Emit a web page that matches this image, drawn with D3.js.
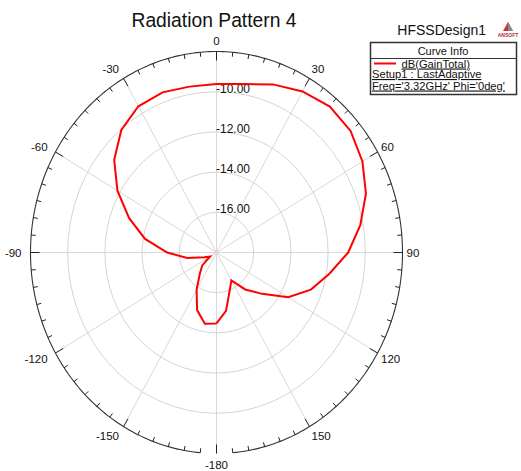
<!DOCTYPE html>
<html>
<head>
<meta charset="utf-8">
<script src="https://cdn.jsdelivr.net/npm/d3@7"></script>
<style>
  html, body { margin: 0; padding: 0; background: #fff; }
  svg { display: block; font-family: "Liberation Sans", Arial, sans-serif; }
</style>
</head>
<body>
<svg id="chart" width="521" height="471"></svg>
<script>
// ---- data ----
const thetaDeg = [-180,-170,-160,-150,-140,-130,-120,-110,-100,-90,-80,-70,-60,-50,-40,-30,-20,-10,
                  0,10,20,30,40,50,60,70,80,90,100,110,120,130,140,150,160,170,180];
const gainDb = [-14.47,-14.40,-14.95,-15.86,-16.60,-17.00,-17.60,-17.30,-16.40,-15.35,-14.10,-13.00,-11.85,-10.82,-10.04,-9.60,-9.52,-9.62,
                -9.62,-9.49,-9.10,-8.75,-8.52,-8.59,-8.94,-9.45,-10.15,-10.92,-11.85,-12.60,-13.55,-14.80,-15.60,-16.40,-15.95,-15.05,-14.47];
const ringValues = [-16, -14, -12, -10];
const ringLabels = ["-16.00", "-14.00", "-12.00", "-10.00"];
const spokeAngles = [0,30,60,90,120,150,180,-150,-120,-90,-60,-30];
const angleTickLabels = ["0","30","60","90","120","150","-180","-150","-120","-90","-60","-30"];
const legendLines = ["dB(GainTotal)", "Setup1 : LastAdaptive", "Freq='3.32GHz' Phi='0deg'"];

// ---- layout ----
const cx = 216.5, cy = 252.5, rx = 186, ry = 201;
const svg = d3.select("#chart");

const rScale = d3.scaleLinear().domain([-18, -8]).range([0, 1]).clamp(true);
const aScale = d3.scaleLinear().domain([-180, 180]).range([-Math.PI, Math.PI]);
const px = (deg, f) => cx + rx * f * Math.sin(aScale(deg));
const py = (deg, f) => cy - ry * f * Math.cos(aScale(deg));

// grid rings
svg.append("g").selectAll("ellipse").data(ringValues).join("ellipse")
  .attr("cx", cx).attr("cy", cy)
  .attr("rx", d => rx * rScale(d)).attr("ry", d => ry * rScale(d))
  .attr("fill", "none").attr("stroke", "#d4d4d4").attr("stroke-width", 1);

// spokes
svg.append("g").selectAll("line").data(spokeAngles).join("line")
  .attr("x1", cx).attr("y1", cy)
  .attr("x2", d => px(d, 1)).attr("y2", d => py(d, 1))
  .attr("stroke", "#d8d8d8").attr("stroke-width", 1);

// outer boundary (gap around 180)
const outerLine = d3.line().x(d => px(d, 1)).y(d => py(d, 1));
svg.append("path").datum(d3.range(-175, 175.01, 1))
  .attr("d", outerLine).attr("fill", "none").attr("stroke", "#333").attr("stroke-width", 1.1);

// ticks every 5 degrees
const tickAngles = d3.range(-175, 180.01, 5);
svg.append("g").selectAll("line").data(tickAngles).join("line")
  .attr("x1", d => px(d, 1)).attr("y1", d => py(d, 1))
  .attr("x2", d => { const L = (d % 30 === 0) ? 9 : 4.5; return cx + (rx - L) * Math.sin(aScale(d)); })
  .attr("y2", d => { const L = (d % 30 === 0) ? 9 : 4.5; return cy - (ry - L) * Math.cos(aScale(d)); })
  .attr("stroke", "#222").attr("stroke-width", 1);

// angle labels
svg.append("g").selectAll("text").data(spokeAngles).join("text")
  .attr("x", d => {
    const s = Math.sin(aScale(d));
    if (Math.abs(s) < 1e-6) return cx;
    return s > 0 ? cx + 190 * s : cx + 195 * s;
  })
  .attr("y", d => cy - 212 * Math.cos(aScale(d)))
  .attr("dy", "0.36em")
  .attr("text-anchor", d => {
    const s = Math.sin(aScale(d));
    if (Math.abs(s) < 1e-6) return "middle";
    return s > 0 ? "start" : "end";
  })
  .attr("font-size", 11.5).attr("fill", "#111")
  .text((d, i) => angleTickLabels[i]);

// ring labels
svg.append("g").selectAll("text").data(ringValues).join("text")
  .attr("x", cx - 0.5)
  .attr("y", d => cy - ry * rScale(d) + 1)
  .attr("font-size", 12).attr("fill", "#111")
  .text((d, i) => ringLabels[i]);

// curve
const data = thetaDeg.map((t, i) => ({ t, g: gainDb[i] }));
const curve = d3.line().x(d => px(d.t, rScale(d.g))).y(d => py(d.t, rScale(d.g)));
svg.append("path").datum(data).attr("d", curve)
  .attr("fill", "none").attr("stroke", "#ff0000").attr("stroke-width", 2)
  .attr("stroke-linejoin", "miter");

// title
svg.append("text").attr("x", 214).attr("y", 27).attr("text-anchor", "middle")
  .attr("font-size", 19.3).attr("fill", "#111").text("Radiation Pattern 4");

// design name
svg.append("text").attr("x", 441.7).attr("y", 35).attr("text-anchor", "middle")
  .attr("font-size", 14).attr("fill", "#111").text("HFSSDesign1");

// ANSOFT logo
const logo = svg.append("g");
logo.append("polygon").attr("points", "508,22 503,31 513,31").attr("fill", "#c8323c");
logo.append("polygon").attr("points", "508,22 508,31 513,31").attr("fill", "#8a8a8a");
logo.append("text").attr("x", 508).attr("y", 36.5).attr("text-anchor", "middle")
  .attr("font-size", 5).attr("font-weight", "bold").attr("fill", "#b03038").text("ANSOFT");

// legend box
const lg = svg.append("g");
lg.append("rect").attr("x", 370.5).attr("y", 42.5).attr("width", 146).attr("height", 52)
  .attr("fill", "#fff").attr("stroke", "#333").attr("stroke-width", 1.5);
lg.append("line").attr("x1", 370.5).attr("x2", 516.5).attr("y1", 58.5).attr("y2", 58.5)
  .attr("stroke", "#333").attr("stroke-width", 1);
lg.append("text").attr("x", 443).attr("y", 55).attr("text-anchor", "middle")
  .attr("font-size", 11).attr("fill", "#111").text("Curve Info");
lg.append("line").attr("x1", 374).attr("x2", 396).attr("y1", 63.5).attr("y2", 63.5)
  .attr("stroke", "#ff0000").attr("stroke-width", 2);
const lx = [401.5, 372, 372], ly = [67.5, 78, 89.5];
lg.selectAll("text.l").data(legendLines).join("text").attr("class", "l")
  .attr("x", (d, i) => lx[i]).attr("y", (d, i) => ly[i])
  .attr("font-size", 11.2).attr("fill", "#111")
  .attr("text-decoration", "underline")
  .text(d => d);
</script>
</body>
</html>
